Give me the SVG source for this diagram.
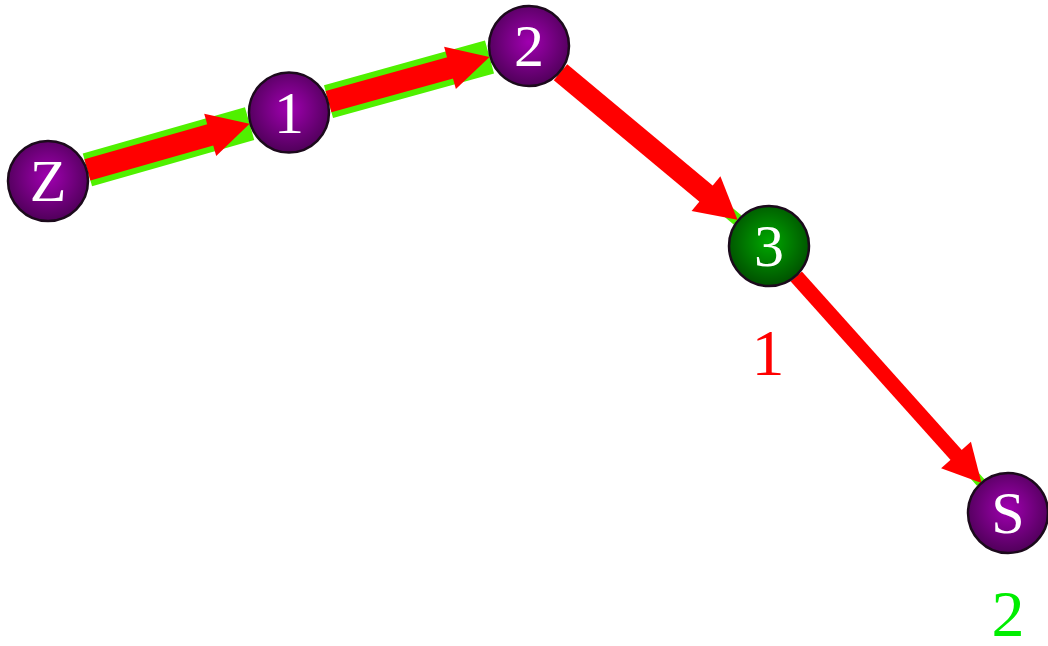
<svg xmlns="http://www.w3.org/2000/svg" width="1048" height="646" viewBox="0 0 1048 646">
<style>
.node{stroke:#1c0a1c;stroke-width:2.5}
.lbl{font-family:"Liberation Serif","DejaVu Serif",serif;font-size:60px;fill:#ffffff;text-anchor:middle}
.out{font-family:"Liberation Serif","DejaVu Serif",serif;font-size:66px;text-anchor:middle}
.g{stroke:#50f000;fill:none}
.r{stroke:#ff0000;fill:none}
.ah{fill:#ff0000}
</style>
<defs>
<radialGradient id="gp" cx="50%" cy="45%" r="55%">
<stop offset="0" stop-color="#a000b0"/>
<stop offset="1" stop-color="#50005a"/>
</radialGradient>
<radialGradient id="gg" cx="50%" cy="45%" r="55%">
<stop offset="0" stop-color="#00a800"/>
<stop offset="1" stop-color="#005000"/>
</radialGradient>
</defs>
<rect width="1048" height="646" fill="#ffffff"/>
<g id="connectors">
<line class="g" x1="87.4" y1="169.8" x2="249.6" y2="123.7" stroke-width="34"/>
<line class="g" x1="328.5" y1="101.6" x2="489.5" y2="57" stroke-width="34"/>
<line class="g" x1="560.5" y1="72.2" x2="737.5" y2="219.8" stroke-width="12"/>
<line class="g" x1="796.3" y1="276.5" x2="980.7" y2="482.5" stroke-width="10"/>
<line class="r" x1="87.4" y1="169.8" x2="212" y2="134.4" stroke-width="22"/>
<polygon class="ah" points="249.6,123.7 216.2,156.1 204.2,113.7"/>
<line class="r" x1="328.5" y1="101.6" x2="452" y2="67.4" stroke-width="22"/>
<polygon class="ah" points="489.5,57 455.9,89.1 444.1,46.7"/>
<line class="r" x1="560.5" y1="72.2" x2="708" y2="195.2" stroke-width="21"/>
<polygon class="ah" points="737.5,219.8 691.6,210.9 720.4,176.3"/>
<line class="r" x1="796.3" y1="276.5" x2="958" y2="457" stroke-width="15"/>
<polygon class="ah" points="981.5,483 941.1,468.3 970.9,441.7"/>
</g>
<g id="node-Z"><circle class="node" cx="48" cy="181" r="40" fill="url(#gp)"/><text class="lbl" x="48" y="201">Z</text></g>
<g id="node-1"><circle class="node" cx="289" cy="112.5" r="40" fill="url(#gp)"/><text class="lbl" x="289" y="133">1</text></g>
<g id="node-2"><circle class="node" cx="529" cy="46" r="40" fill="url(#gp)"/><text class="lbl" x="529" y="66">2</text></g>
<g id="node-3"><circle class="node" cx="769" cy="246" r="40" fill="url(#gg)"/><text class="lbl" x="769" y="266">3</text></g>
<g id="node-S"><circle class="node" cx="1008" cy="513" r="40" fill="url(#gp)"/><text class="lbl" x="1008" y="533">S</text></g>
<text class="out" x="768" y="375" fill="#ff0000">1</text>
<text class="out" x="1008" y="636" fill="#00ee00">2</text>
</svg>
